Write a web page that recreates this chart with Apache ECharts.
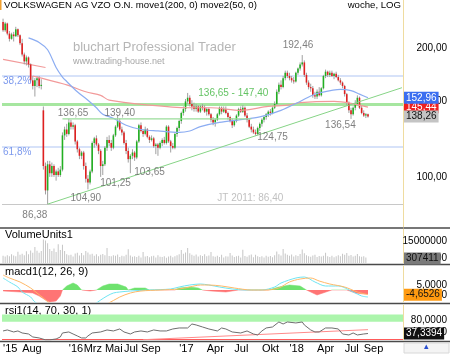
<!DOCTYPE html>
<html><head><meta charset="utf-8">
<script src="https://cdn.jsdelivr.net/npm/echarts@6.0.0/dist/echarts.min.js"></script>
<style>html,body{margin:0;padding:0;background:#fff}#chart{width:450px;height:354px}</style>
</head><body><div id="chart"></div>
<script>
// ---------- data ----------
const startDate = '2015-06-01';
const weekCount = 189;
const xTickDates = ['2015-06-01','2015-08-03','2016-01-04','2016-02-22','2016-05-02','2016-07-04','2016-08-29','2017-01-02','2017-04-03','2017-07-03','2017-10-02','2018-01-01','2018-04-02','2018-07-02','2018-09-03'];
const xTickLabels = ["'15","Aug","'16","Mrz","Mai","Jul","Sep","'17","Apr","Jul","Okt","'18","Apr","Jul","Sep"];

const opens = [230,220,228,216,210,215,213,221,214,205, 193,186,190,183,168,163,168,170,163,143, 106,93,107,102,106,101,103,101,104,125,
 129,126,134,131,132,121,116,112,114,106, 99,97,103,120,123,119,115,106,107,117, 122,120,117,125,131,135,129,127,120,115,
 110,112,114,111,121,132,128,126,129,124, 122,123,118,119,117,120,122,120,131,121, 118,117,126,130,135,141,144,150,153,148,
 146,144,146,142,146,145,142,144,140,136, 134,136,140,145,142,144,141,138,135,132, 135,139,144,142,145,139,136,131,129,127,
 126,130,133,136,138,140,142,141,145,148, 158,164,162,170,175,172,170,168,167,175, 179,183,185,173,166,162,161,155,154,158,
 155,161,172,176,173,175,172,174,171,168, 166,163,156,149,143,140,145,148,153,145, 141,139,140];
const highs = [234,230,229,219,217,218,224,222,215,210, 195,192,191,184,172,170,172,172,169,146, 108,109,109,108,107,104,105,106,127,131,
 133,136.65,136,134,133,122,117,115,115,108, 101,104,121,124,125,120,116,109,118,124, 125,122,126,132,139.4,137,131,128,122,117,
 113,116,115,122,133,134,129,131,130,125, 125,124,120,120,121,123,124,132,132,122, 120,127,131,136,142,146,152,157,155,151,
 149,148,147,147,148,147,145,145,141,138, 137,141,146,146,146,146,142,139,137,136, 140,145,146,147,146,141,137,133,131,129,
 131,134,137,139,141,143,144,146,150,160, 166,168,172,177,177,175,172,171,176,180, 185,192.46,187,175,168,165,163,158,160,162,
 162,173,178,177,177,177,175,176,173,170, 167,164,157,150,145,146,151,155,154,147, 143,141,140.5];
const lows = [218,218,214,207,209,207,212,212,203,191, 183,182,180,166,160,154,162,161,160,104, 91,86.38,100,100,100,98,100,100,103,122,
 124,125,129,129,119,114,110,110,104,97, 93.5,96,102,117,118,113,100,101,106,115, 118,115,116,124,130,128,125,119,113,108,
 102,110,109,110,120,127,124,125,123,120, 121,117,113,112,116,118,119,119,120,114, 116,116,124,128,133,139,142,148,146,143,
 142,142,141,141,143,141,139,139,134,132, 131,135,139,140,141,140,136,134,130,131, 134,138,141,141,138,134,130,127,126,124.75,
 125,128,131,134,136,138,139,140,144,147, 156,160,161,168,170,168,166,165,166,173, 177,181,171,164,160,158,153,152,152,154,
 154,160,170,171,171,171,169,170,167,164, 161,154,147,141,136.54,139,143,147,144,140, 138,137.2,137.5];
const closes = [220,228,216,210,215,213,221,214,205,193, 186,190,183,168,163,168,170,163,164,106, 93,107,102,106,101,103,101,104,125,129,
 126,134,131,132,121,116,112,114,106,99, 97,103,120,123,119,115,106,107,117,122, 120,117,125,131,135,129,127,120,115,110,
 112,114,111,121,132,128,126,129,124,122, 123,118,119,117,120,122,120,131,121,118, 117,126,130,135,141,144,150,153,148,146,
 144,146,142,146,145,142,144,140,136,134, 136,140,145,142,144,141,138,135,132,135, 139,144,142,145,139,136,131,129,127,126,
 130,133,136,138,140,142,141,145,148,158, 164,162,170,175,172,170,168,167,175,179, 183,185,173,166,162,161,155,154,158,155,
 161,172,176,173,175,172,174,171,168,166, 163,156,149,143,140,145,148,153,145,141, 139,140,138.26];
const volumes = [6200000,5800000,6500000,6000000,7200000,6400000,5900000,8600000,6800000,7500000,
 6600000,8900000,7100000,9400000,8000000,11400000,9200000,8100000,9000000,15800000,
 15200000,13600000,10200000,9100000,10500000,8400000,13000000,9600000,12800000,9000000,
 7200000,6500000,6900000,5800000,7600000,8100000,6400000,7900000,6600000,9100000,
 8200000,7000000,7500000,6300000,7100000,6000000,6800000,7300000,6500000,10800000,
 6100000,5900000,6600000,6200000,7000000,5600000,6300000,5900000,6800000,10100000,
 6400000,5700000,6000000,5500000,6200000,5300000,8500000,5800000,6100000,5400000,
 5900000,6300000,5200000,6600000,5700000,5500000,6000000,5100000,5800000,6200000,
 5400000,5900000,6500000,7100000,9600000,7400000,8200000,10800000,7700000,6900000,
 6300000,7000000,5800000,6600000,6100000,7200000,5900000,6400000,8500000,6000000,
 5700000,6300000,5500000,6800000,5200000,6000000,5800000,7900000,6400000,5600000,
 5900000,6200000,5300000,9800000,6100000,5700000,6500000,7000000,5400000,6800000,
 6000000,5500000,5900000,5200000,6300000,5700000,6100000,5400000,6600000,8800000,
 7200000,6400000,10200000,7600000,6900000,6200000,7000000,5800000,6500000,6100000,
 7300000,9900000,7800000,6600000,6000000,5700000,6400000,6900000,5500000,6100000,
 5800000,6300000,8100000,6000000,5600000,6200000,5400000,5900000,6600000,6000000,
 7400000,6800000,7900000,6300000,6700000,5800000,6200000,7300000,6000000,5700000,
 5900000,5200000,307411];

// moving averages [week index, value]
const move1 = [[14,172],[22,168],[30,164],[39,158],[46,155],[50,151],[69,147],[87,145],[98,145],[112,143],[125,146],[134,147],[140,149],[156,150],[164,148.5],[172,145.44]];
const move1Early = [[0,188],[20,180]];
const move2 = [[12,211],[17,206],[21,198],[25,180],[28,171],[30,167],[35,158],[40,151],[44,145],[47,140],[52,137],[58,132],[65,129],[73,128],[83,127],[88,128],[93,131],[102,134],[112,136],[121,138],[131,143],[140,150],[145,154.5],[149,157],[159,160],[164,159],[168,156],[172,152.96]];
const trendLine = [[21,86.38],[188,161.5]];
const supportLine = [[28,136.65],[117,136.65]];
const fibLevels = [172.1, 117.7];
const zoneTop = 147.40;
const jt2011 = 86.40;
const priceTicks = [100,150,200];

const notesCenter = [['192,46',139,203.2],['136,65',33,141.1],['139,40',55,141.1],['86,38',15,81.5],['104,90',39,89.3],['101,25',53,96.8],['103,65',69,102.7],['124,75',127,124.0],['136,54',159,132.2]];
const notesLeft = [['136,65 - 147,40',92,157,'#3cb43c'],['JT 2011: 86,40',101,89.3,'#b0b0b0'],['38,2%',0,167.5,'#5b7fe8'],['61,8%',0,114.4,'#5b7fe8']];

const macdHist = [[0,-1],[8,-2],[14,-3],[17,-6],[20,-10],[22,-12],[25,-11],[27,-6],[28,0],[30,4],[33,7],[35,5],[37,0],[41,-1],[44,0],[47,4],[50,6],[54,6],[58,3],[59,0],[62,2],[67,2],[69,0],[81,0],[83,2],[88,3],[92,2],[94,0],[98,-1],[105,-2],[111,0],[125,0],[130,3],[135,5],[140,4],[143,0],[148,-5],[155,0],[162,0],[166,-3],[170,-4],[172,-4]];
const macdLine = [[0,12],[3,8],[7,3],[9,-2],[13,-7],[15,-12],[21,-18],[32,-20],[43,-14],[46,-10],[49,-6],[52,-3],[55,-2],[60,-1],[69,0],[79,1],[83,3],[88,5],[93,6],[97,5],[102,3],[108,1],[114,0],[122,0],[128,3],[131,7],[138,12],[142,13],[147,8],[152,4],[158,4],[165,-2],[169,-6],[172,-7]];
const macdSignal = [[0,15],[3,12],[8,8],[13,2],[16,-3],[19,-8],[22,-13],[34,-20],[46,-16],[49,-14],[55,-7],[60,-3],[65,-1],[74,0],[83,1],[88,3],[93,5],[97,5],[103,4],[109,2],[117,0],[124,0],[130,2],[135,8],[140,11],[145,12],[149,9],[154,6],[161,3],[167,-2],[172,-4.6526]];
const rsi = [[0,45.7],[2,49],[5,42.4],[7,45.7],[9,39.1],[12,35.8],[14,26],[17,22.7],[20,16.5],[22,16.5],[25,19.4],[27,26],[28,39.1],[31,42.4],[33,35.8],[35,29.3],[37,22.7],[39,22.7],[40,29.3],[42,39.1],[46,42.4],[49,49],[52,45.7],[55,52.2],[57,42.4],[60,35.8],[62,42.4],[65,45.7],[68,42.4],[71,49],[74,45.7],[77,45.7],[80,52.2],[83,55.5],[87,55.5],[89,68.6],[91,65.4],[94,58.8],[97,52.2],[101,45.7],[103,55.5],[105,52.2],[108,42.4],[112,39.1],[115,45.7],[118,35.8],[120,32.5],[122,45.7],[124,55.5],[127,58.8],[130,75.2],[132,68.6],[134,75.2],[138,72],[141,75.2],[142,65.4],[145,49],[147,42.4],[149,42.4],[152,55.5],[155,55.5],[158,52.2],[160,35.8],[163,32.5],[165,39.1],[167,32.5],[170,35.8],[172,37.3394]];
const rsiTrend = [[66,17],[172,50]];
const rsiBand = [76,100];
const rsiLowLine = 20;

// ---------- build ----------
const categories = [];
const t0 = Date.parse(startDate + 'T00:00:00Z');
for (let k = 0; k < weekCount; k++) categories.push(new Date(t0 + k * 7 * 86400000).toISOString().slice(0, 10));
const tickMap = {}; xTickDates.forEach((d, i) => tickMap[d] = xTickLabels[i]);
const candleData = closes.map((c, i) => [i, opens[i], c, lows[i], highs[i]]);
const comma = (v, d) => Number(v).toFixed(d).replace('.', ',');
const last = a => a[a.length - 1];

const FONT = 'Liberation Sans, Arial, sans-serif';
const TAN = '#efdca0';
const GRIDL = 2, GRIDR = 47;
const grids = [
  {left: GRIDL, right: GRIDR, top: 0, height: 227},
  {left: GRIDL, right: GRIDR, top: 229, height: 34},
  {left: GRIDL, right: GRIDR, top: 266, height: 36},
  {left: GRIDL, right: GRIDR, top: 305, height: 35}
];
const xAxes = grids.map((g, k) => ({
  type: 'category', gridIndex: k, data: categories, boundaryGap: true,
  axisLine: {show: false}, axisTick: {show: false}, splitLine: {show: false},
  axisLabel: k === 3 ? {
    show: true, interval: (idx, val) => tickMap[val] !== undefined,
    formatter: val => tickMap[val] || '', align: 'left', margin: 3,
    fontSize: 11, color: '#000', fontFamily: FONT
  } : {show: false}
}));
const rightLabel = (vals, fmt) => ({customValues: vals, formatter: fmt, align: 'right', margin: 44, fontSize: 10, color: '#000', fontFamily: FONT});
const yAxes = [
  {type: 'log', logBase: 10, gridIndex: 0, position: 'right', min: 76.4, max: 258.7,
   axisLine: {show: true, lineStyle: {color: TAN}}, axisTick: {show: false}, splitLine: {show: false}, axisLabel: {show: false}},
  {type: 'value', gridIndex: 1, position: 'right', min: 2000000, max: 22000000,
   axisLine: {show: true, lineStyle: {color: TAN}}, axisTick: {show: false}, splitLine: {show: false},
   axisLabel: rightLabel([5000000, 15000000], v => String(v))},
  {type: 'value', gridIndex: 2, position: 'right', min: -12, max: 24,
   axisLine: {show: true, lineStyle: {color: TAN}}, axisTick: {show: false}, splitLine: {show: false},
   axisLabel: rightLabel([-5, 5], v => comma(v, 4))},
  {type: 'value', gridIndex: 3, position: 'right', min: 16, max: 131,
   axisLine: {show: true, lineStyle: {color: TAN}}, axisTick: {show: false}, splitLine: {show: false},
   axisLabel: rightLabel([40, 80], v => comma(v, 4))}
];

const boxLabel = (text, bg, fg) => ({show: true, position: 'end', distance: 1, formatter: text, backgroundColor: bg, color: fg,
  padding: [1, 2, 0, 2], fontSize: 10, lineHeight: 11, fontFamily: FONT, opacity: 1});
const hiddenLine = {color: 'rgba(255,255,255,0)', width: 1, type: 'solid'};

function renderCandle(params, api) {
  const i = api.value(0), o = api.value(1), c = api.value(2), l = api.value(3), h = api.value(4);
  const pO = api.coord([i, o]), pC = api.coord([i, c]), pL = api.coord([i, l]), pH = api.coord([i, h]);
  let bw = api.size([1, 100])[0];
  if (!isFinite(bw)) bw = 2.1;
  const w = bw * 0.75;
  const up = c >= o;
  const top = Math.min(pO[1], pC[1]);
  const hgt = Math.max(1, Math.abs(pO[1] - pC[1]));
  return {type: 'group', children: [
    {type: 'line', shape: {x1: pH[0], y1: pH[1], x2: pL[0], y2: pL[1]}, style: {stroke: '#a0a0a0', lineWidth: 1}},
    {type: 'rect', shape: {x: pO[0] - w / 2, y: top, width: w, height: hgt}, style: {fill: up ? '#22b022' : '#e02020'}}
  ]};
}

const noteData = notesCenter.map(n => ({value: [n[1], n[2]], label: {formatter: n[0], align: 'center', color: '#606060'}}))
  .concat(notesLeft.map(n => ({value: [n[1], n[2]], label: {formatter: n[0], align: 'left', color: n[3]}})));

const series = [
  // 0 level lines + early pink segment
  {type: 'line', name: 'levels', xAxisIndex: 0, yAxisIndex: 0, data: move1Early, z: 1,
   lineStyle: {color: '#f29a9a', width: 1.2}, showSymbol: false,
   markLine: {z: 1, silent: true, symbol: 'none', label: {show: false}, data: [
     {yAxis: fibLevels[0], lineStyle: {color: '#cad8f7', width: 1.5, type: 'solid'}},
     {yAxis: fibLevels[1], lineStyle: {color: '#cad8f7', width: 1.5, type: 'solid'}},
     {yAxis: zoneTop, lineStyle: {color: '#a6e6a0', width: 3, type: 'solid'}},
     {yAxis: jt2011, lineStyle: {color: '#c8c8c8', width: 1, type: 'solid'}}
   ]}},
  // 1 candles
  {type: 'custom', name: 'candles', xAxisIndex: 0, yAxisIndex: 0, renderItem: renderCandle, data: candleData,
   encode: {x: 0, y: [1, 2, 3, 4]}, z: 2, animation: false},
  // 2 move1
  {type: 'line', name: 'move1', xAxisIndex: 0, yAxisIndex: 0, data: move1, showSymbol: false, smooth: 0.3,
   lineStyle: {color: '#f29a9a', width: 1.2}, z: 3,
   markLine: {silent: true, symbol: 'none', lineStyle: hiddenLine,
     label: {show: true, position: 'end', distance: 44, align: 'right', fontSize: 10, color: '#000', fontFamily: FONT, opacity: 1,
       formatter: p => comma(p.value, 2)},
     data: priceTicks.map(v => ({yAxis: v}))}},
  // 3 move2
  {type: 'line', name: 'move2', xAxisIndex: 0, yAxisIndex: 0, data: move2, showSymbol: false, smooth: 0.3,
   lineStyle: {color: '#8cadf2', width: 1.2}, z: 3,
   markLine: {silent: true, symbol: 'none', lineStyle: hiddenLine, data: [
     {yAxis: last(move1)[1], label: boxLabel(comma(last(move1)[1], 2), '#ee2020', '#fff')},
     {yAxis: last(move2)[1], label: boxLabel(comma(last(move2)[1], 2), '#3b6ef0', '#fff')},
     {yAxis: last(closes), label: boxLabel(comma(last(closes), 2), '#c4c4c4', '#111')}
   ]}},
  // 4 trend
  {type: 'line', name: 'trend', xAxisIndex: 0, yAxisIndex: 0, data: trendLine, showSymbol: false,
   lineStyle: {color: '#86d486', width: 1}, z: 3},
  // 5 support
  {type: 'line', name: 'support', xAxisIndex: 0, yAxisIndex: 0, data: supportLine, showSymbol: false,
   lineStyle: {color: '#9adc9a', width: 1.2}, z: 3},
  // 6 notes
  {type: 'scatter', name: 'notes', xAxisIndex: 0, yAxisIndex: 0, symbolSize: 0, data: noteData, z: 4,
   label: {show: true, position: 'inside', fontSize: 10, fontFamily: FONT, verticalAlign: 'middle'}},
  // 7 volume
  {type: 'bar', name: 'volume', xAxisIndex: 1, yAxisIndex: 1, data: volumes, barWidth: 1,
   itemStyle: {color: '#c6c6c6'}, z: 2,
   markLine: {silent: true, symbol: 'none', lineStyle: hiddenLine, data: [
     {yAxis: Math.max(last(volumes), 4700000), label: boxLabel(String(last(volumes)), '#7a7a7a', '#111')}
   ]}},
  // 8 macd histogram
  {type: 'line', name: 'macdHist', xAxisIndex: 2, yAxisIndex: 2, data: macdHist, showSymbol: false,
   lineStyle: {width: 0.5}, areaStyle: {opacity: 1}, z: 2},
  // 9 macd line
  {type: 'line', name: 'macd', xAxisIndex: 2, yAxisIndex: 2, data: macdLine, showSymbol: false, smooth: 0.3,
   lineStyle: {color: '#6fe4f2', width: 1}, z: 3},
  // 10 signal
  {type: 'line', name: 'signal', xAxisIndex: 2, yAxisIndex: 2, data: macdSignal, showSymbol: false, smooth: 0.3,
   lineStyle: {color: '#ffb868', width: 1}, z: 3,
   markLine: {silent: true, symbol: 'none', lineStyle: hiddenLine, data: [
     {yAxis: last(macdSignal)[1], label: boxLabel(comma(last(macdSignal)[1], 4), '#ff9a10', '#111')}
   ]}},
  // 11 rsi trend + low line
  {type: 'line', name: 'rsiTrend', xAxisIndex: 3, yAxisIndex: 3, data: rsiTrend, showSymbol: false,
   lineStyle: {color: '#ff8a8a', width: 1}, z: 2,
   markArea: {silent: true, itemStyle: {color: '#acf5ac'}, data: [[{yAxis: rsiBand[0]}, {yAxis: rsiBand[1]}]]},
   markLine: {z: 2, silent: true, symbol: 'none', label: {show: false},
     data: [{yAxis: rsiLowLine, lineStyle: {color: '#ff5a5a', width: 1, type: 'solid'}}]}},
  // 12 rsi
  {type: 'line', name: 'rsi', xAxisIndex: 3, yAxisIndex: 3, data: rsi, showSymbol: false,
   lineStyle: {color: '#6e6e6e', width: 1}, z: 3,
   markLine: {silent: true, symbol: 'none', lineStyle: hiddenLine, data: [
     {yAxis: last(rsi)[1], label: boxLabel(comma(last(rsi)[1], 4), '#111', '#fff')}
   ]}}
];

const sepLine = y => ({type: 'line', shape: {x1: 0, y1: y, x2: 450, y2: y}, style: {stroke: '#4a4a4a', lineWidth: 1.5}, silent: true});
const txt = (x, y, s, size, color) => ({type: 'text', left: x, top: y, silent: true,
  style: {text: s, fontSize: size, fill: color, fontFamily: FONT}});

const option = {
  animation: false,
  textStyle: {fontFamily: FONT},
  grid: grids, xAxis: xAxes, yAxis: yAxes,
  visualMap: [{type: 'piecewise', show: false, seriesIndex: 8, dimension: 1,
    pieces: [{min: -100, max: 0, color: '#ff7474'}, {min: 0, max: 100, color: '#6ee26e'}]}],
  series: series,
  graphic: [
    sepLine(228), sepLine(264.5), sepLine(303.5), sepLine(341.5),
    {type: 'rect', shape: {x: 0, y: 0, width: 1.5, height: 10}, style: {fill: '#f0a030'}, silent: true},
    txt(4, 0.5, 'VOLKSWAGEN AG VZO O.N. move1(200, 0) move2(50, 0)', 9.6, '#000'),
    {type: 'text', right: 49, top: 0.5, silent: true, style: {text: 'woche, LOG', fontSize: 9.6, fill: '#000', fontFamily: FONT}},
    txt(73, 41, 'bluchart Professional Trader', 13, '#b6b6b6'),
    txt(73, 57, 'www.trading-house.net', 9, '#a6a6a6'),
    txt(5, 229, 'VolumeUnits1', 11, '#000'),
    txt(5, 266, 'macd1(12, 26, 9)', 11, '#000'),
    txt(5, 305, 'rsi1(14, 70, 30, 1)', 11, '#000'),
    {type: 'rect', shape: {x: 404, y: 343, width: 45, height: 10}, style: {fill: '#f4f4f4', stroke: '#d8d8d8'}, silent: true},
    txt(424, 342, '\u25B4', 9, '#2a4fd0')
  ]
};
const chart = echarts.init(document.getElementById('chart'), null, {renderer: 'canvas'});
chart.setOption(option);
</script>
</body></html>
